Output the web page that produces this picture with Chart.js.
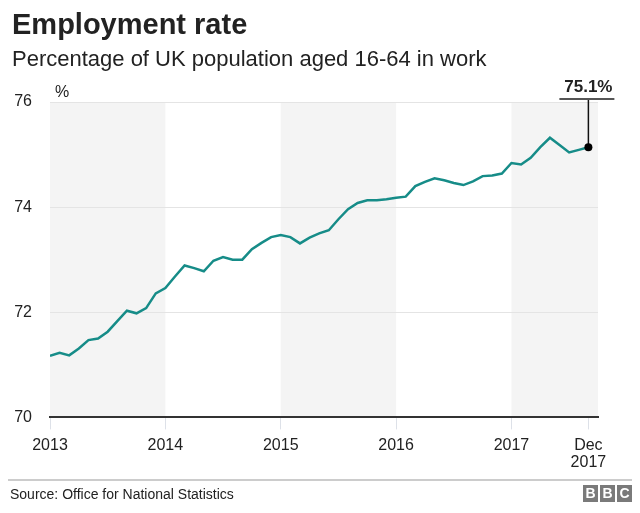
<!DOCTYPE html>
<html>
<head>
<meta charset="utf-8">
<script src="https://cdn.jsdelivr.net/npm/chart.js@4/dist/chart.umd.min.js"></script>
<style>
  body { margin: 0; background: #fff; font-family: "Liberation Sans", Arial, Helvetica, sans-serif; }
  .wrap { position: relative; width: 640px; height: 513px; overflow: hidden; }
  #chart { position: absolute; left: 0; top: 0; }
  .title { position: absolute; left: 12px; top: 8px; font-size: 29px; font-weight: bold; color: #222; }
  .sub { position: absolute; left: 12px; top: 46px; font-size: 22px; color: #222; }
  .rule { position: absolute; left: 8px; right: 8px; top: 479px; height: 2px; background: #ccc; }
  .source { position: absolute; left: 10px; top: 486px; font-size: 14px; color: #222; }
  .bbc { position: absolute; right: 8px; top: 485px; display: flex; gap: 2px; }
  .bbc span { width: 15px; height: 17px; background: #7a7a7a; color: #fff; font-weight: bold; font-size: 14px; line-height: 17px; text-align: center; }
</style>
</head>
<body>
<div class="wrap">
  <canvas id="chart" width="640" height="513"></canvas>
  <div class="title">Employment rate</div>
  <div class="sub">Percentage of UK population aged 16-64 in work</div>
  <div class="rule"></div>
  <div class="source">Source: Office for National Statistics</div>
  <div class="bbc"><span>B</span><span>B</span><span>C</span></div>
</div>
<script>
/* ── DATA ──────────────────────────────────────────────────── */
// monthly readings, Jan 2013 onwards (index = months since Jan 2013)
const rate = [
  71.17, 71.23, 71.18, 71.31, 71.47, 71.50, 71.63, 71.83, 72.03, 71.98, 72.08, 72.36,
  72.46, 72.68, 72.89, 72.84, 72.78, 72.98, 73.05, 73.00, 73.00, 73.20, 73.32, 73.43,
  73.47, 73.43, 73.31, 73.42, 73.50, 73.56, 73.77, 73.96, 74.08, 74.13, 74.13, 74.15,
  74.18, 74.20, 74.40, 74.48, 74.55, 74.51, 74.46, 74.42, 74.49, 74.59, 74.60, 74.64,
  74.84, 74.81, 74.94, 75.14, 75.32, 75.18, 75.04, 75.09, 75.14
];
const tickPos    = [0, 12, 24, 36, 48, 56];
const tickLabels = ['2013', '2014', '2015', '2016', '2017', ['Dec', '2017']];
const shadedYears = [[0, 12], [24, 36], [48, 57]];
const yTicks = [70, 72, 74, 76];

const points = rate.map((v, i) => ({ x: i, y: v }));

/* ── PLUGINS ───────────────────────────────────────────────── */
const bands = {
  id: 'bands',
  beforeDraw(chart) {
    const { ctx, chartArea: a, scales: { x } } = chart;
    ctx.save();
    ctx.fillStyle = '#f4f4f4';
    shadedYears.forEach(([s, e]) => {
      const x0 = x.getPixelForValue(s);
      const x1 = Math.min(x.getPixelForValue(e), a.right);
      ctx.fillRect(x0, a.top, x1 - x0, a.bottom - a.top);
    });
    ctx.restore();
  }
};

const notes = {
  id: 'notes',
  afterDatasetsDraw(chart) {
    const { ctx, chartArea: a } = chart;
    const meta = chart.getDatasetMeta(0);
    const last = meta.data[meta.data.length - 1];
    const lineY = a.top - 3;
    ctx.save();
    // % unit label
    ctx.fillStyle = '#222';
    ctx.font = '16px "Liberation Sans", Arial, sans-serif';
    ctx.textBaseline = 'alphabetic';
    ctx.fillText('%', a.left + 5, a.top - 5);
    // callout
    ctx.strokeStyle = '#111';
    ctx.lineWidth = 1.5;
    ctx.beginPath();
    ctx.moveTo(last.x, last.y);
    ctx.lineTo(last.x, lineY);
    ctx.stroke();
    ctx.strokeStyle = '#555';
    ctx.lineWidth = 2;
    ctx.beginPath();
    ctx.moveTo(last.x - 29, lineY);
    ctx.lineTo(last.x + 26, lineY);
    ctx.stroke();
    ctx.fillStyle = '#000';
    ctx.beginPath();
    ctx.arc(last.x, last.y, 4, 0, Math.PI * 2);
    ctx.fill();
    ctx.fillStyle = '#222';
    ctx.font = 'bold 17px "Liberation Sans", Arial, sans-serif';
    ctx.textAlign = 'center';
    ctx.fillText(rate[rate.length - 1].toFixed(1) + '%', last.x, lineY - 7);
    ctx.restore();
  }
};

/* ── CHART ─────────────────────────────────────────────────── */
new Chart(document.getElementById('chart'), {
  type: 'line',
  data: {
    datasets: [{
      data: points,
      borderColor: '#168c88',
      borderWidth: 2.5,
      pointRadius: 0,
      tension: 0,
      fill: false
    }]
  },
  options: {
    responsive: false,
    animation: false,
    events: [],
    layout: { padding: { top: 102, left: 13, right: 42, bottom: 34 } },
    plugins: { legend: { display: false }, tooltip: { enabled: false } },
    scales: {
      x: {
        type: 'linear',
        min: 0,
        max: 57,
        afterBuildTicks: axis => { axis.ticks = tickPos.map(v => ({ value: v })); },
        ticks: {
          autoSkip: false,
          maxRotation: 0,
          padding: 8,
          color: '#222',
          font: { size: 16, family: '"Liberation Sans", Arial, sans-serif', lineHeight: 1.05 },
          callback: v => tickLabels[tickPos.indexOf(v)]
        },
        grid: { drawOnChartArea: false, drawTicks: true, tickLength: 12, color: '#dde1e8' },
        border: { display: true, color: '#333', width: 2 }
      },
      y: {
        min: 70,
        max: 76,
        afterBuildTicks: axis => { axis.ticks = yTicks.map(v => ({ value: v })); },
        afterFit: axis => { axis.width = 37; },
        ticks: {
          padding: 18,
          color: '#222',
          font: { size: 16, family: '"Liberation Sans", Arial, sans-serif' }
        },
        grid: {
          drawTicks: false,
          color: c => (c.tick && c.tick.value === 70 ? 'rgba(0,0,0,0)' : '#e4e4e4')
        },
        border: { display: false }
      }
    }
  },
  plugins: [bands, notes]
});
</script>
</body>
</html>
